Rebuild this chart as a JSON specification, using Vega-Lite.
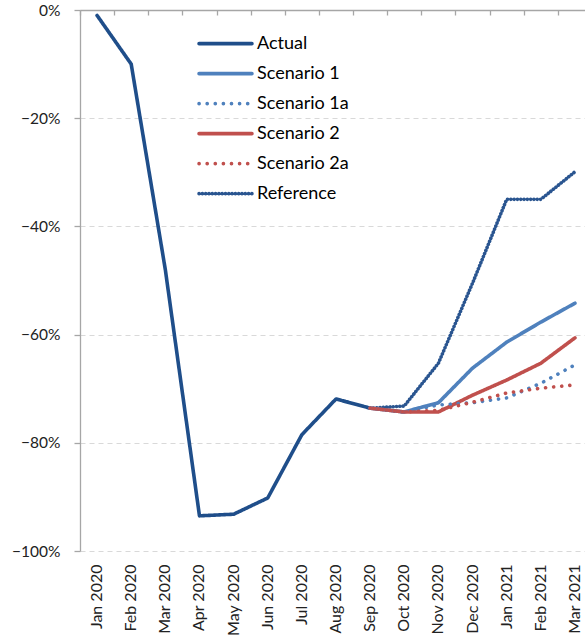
{
  "$schema": "https://vega.github.io/schema/vega-lite/v6.json",
  "width": 505,
  "height": 541,
  "autosize": {"type": "none"},
  "padding": {"left": 80, "top": 10, "right": 0, "bottom": 93},
  "background": "white",
  "config": {
    "font": "Lato",
    "view": {"stroke": null},
    "axis": {"labelFont": "Lato", "labelFontSize": 16, "labelColor": "#222222"},
    "legend": {"labelFont": "Lato", "labelFontSize": 18, "labelColor": "#000000"}
  },
  "data": {
    "values": [
      {"month": "Jan 2020", "series": "Actual", "value": -0.01},
      {"month": "Feb 2020", "series": "Actual", "value": -0.10},
      {"month": "Mar 2020", "series": "Actual", "value": -0.48},
      {"month": "Apr 2020", "series": "Actual", "value": -0.935},
      {"month": "May 2020", "series": "Actual", "value": -0.932},
      {"month": "Jun 2020", "series": "Actual", "value": -0.902},
      {"month": "Jul 2020", "series": "Actual", "value": -0.785},
      {"month": "Aug 2020", "series": "Actual", "value": -0.719},
      {"month": "Sep 2020", "series": "Actual", "value": -0.736},

      {"month": "Sep 2020", "series": "Reference", "value": -0.736},
      {"month": "Oct 2020", "series": "Reference", "value": -0.732},
      {"month": "Nov 2020", "series": "Reference", "value": -0.653},
      {"month": "Dec 2020", "series": "Reference", "value": -0.505},
      {"month": "Jan 2021", "series": "Reference", "value": -0.35},
      {"month": "Feb 2021", "series": "Reference", "value": -0.35},
      {"month": "Mar 2021", "series": "Reference", "value": -0.299},

      {"month": "Sep 2020", "series": "Scenario 1", "value": -0.736},
      {"month": "Oct 2020", "series": "Scenario 1", "value": -0.743},
      {"month": "Nov 2020", "series": "Scenario 1", "value": -0.726},
      {"month": "Dec 2020", "series": "Scenario 1", "value": -0.662},
      {"month": "Jan 2021", "series": "Scenario 1", "value": -0.614},
      {"month": "Feb 2021", "series": "Scenario 1", "value": -0.577},
      {"month": "Mar 2021", "series": "Scenario 1", "value": -0.542},

      {"month": "Sep 2020", "series": "Scenario 2", "value": -0.736},
      {"month": "Oct 2020", "series": "Scenario 2", "value": -0.743},
      {"month": "Nov 2020", "series": "Scenario 2", "value": -0.743},
      {"month": "Dec 2020", "series": "Scenario 2", "value": -0.712},
      {"month": "Jan 2021", "series": "Scenario 2", "value": -0.684},
      {"month": "Feb 2021", "series": "Scenario 2", "value": -0.653},
      {"month": "Mar 2021", "series": "Scenario 2", "value": -0.606},

      {"month": "Sep 2020", "series": "Scenario 1a", "value": -0.736},
      {"month": "Oct 2020", "series": "Scenario 1a", "value": -0.743},
      {"month": "Nov 2020", "series": "Scenario 1a", "value": -0.73},
      {"month": "Dec 2020", "series": "Scenario 1a", "value": -0.726},
      {"month": "Jan 2021", "series": "Scenario 1a", "value": -0.717},
      {"month": "Feb 2021", "series": "Scenario 1a", "value": -0.69},
      {"month": "Mar 2021", "series": "Scenario 1a", "value": -0.656},

      {"month": "Sep 2020", "series": "Scenario 2a", "value": -0.736},
      {"month": "Oct 2020", "series": "Scenario 2a", "value": -0.743},
      {"month": "Nov 2020", "series": "Scenario 2a", "value": -0.74},
      {"month": "Dec 2020", "series": "Scenario 2a", "value": -0.725},
      {"month": "Jan 2021", "series": "Scenario 2a", "value": -0.708},
      {"month": "Feb 2021", "series": "Scenario 2a", "value": -0.699},
      {"month": "Mar 2021", "series": "Scenario 2a", "value": -0.693}
    ]
  },
  "layer": [
    {
      "mark": {"type": "line", "strokeOpacity": 0},
      "encoding": {
        "x": {
          "field": "month",
          "type": "ordinal",
          "sort": ["Jan 2020","Feb 2020","Mar 2020","Apr 2020","May 2020","Jun 2020","Jul 2020","Aug 2020","Sep 2020","Oct 2020","Nov 2020","Dec 2020","Jan 2021","Feb 2021","Mar 2021"],
          "scale": {"type": "band", "paddingInner": 0, "paddingOuter": 0, "range": [0, 512]},
          "axis": {
            "orient": "top",
            "title": null,
            "labels": false,
            "domain": true,
            "domainColor": "#a6a6a6",
            "domainWidth": 1.3,
            "ticks": true,
            "tickBand": "extent",
            "tickSize": -5,
            "tickColor": "#a6a6a6",
            "tickWidth": 1.3,
            "grid": false
          }
        },
        "y": {"field": "value", "type": "quantitative"},
        "detail": {"field": "series"}
      }
    },
    {
      "mark": {"type": "line", "strokeCap": "round", "strokeJoin": "round"},
      "encoding": {
        "x": {
          "field": "month",
          "type": "ordinal",
          "sort": ["Jan 2020","Feb 2020","Mar 2020","Apr 2020","May 2020","Jun 2020","Jul 2020","Aug 2020","Sep 2020","Oct 2020","Nov 2020","Dec 2020","Jan 2021","Feb 2021","Mar 2021"],
          "axis": {
            "orient": "bottom",
            "title": null,
            "labelAngle": -90,
            "labelAlign": "right",
            "labelBaseline": "middle",
            "labelPadding": 13,
            "domain": false,
            "ticks": false,
            "grid": false
          }
        },
        "y": {
          "field": "value",
          "type": "quantitative",
          "scale": {"domain": [-1, 0], "nice": false, "zero": false},
          "axis": {
            "title": null,
            "values": [-1, -0.8, -0.6, -0.4, -0.2, 0],
            "format": ".0%",
            "labelFontSize": 15.5,
            "labelPadding": 14,
            "domainColor": "#a6a6a6",
            "domainWidth": 1.3,
            "tickColor": "#a6a6a6",
            "tickSize": 6,
            "tickWidth": 1.3,
            "gridColor": "#d9d9d9",
            "gridDash": [5, 4]
          }
        },
        "color": {
          "field": "series",
          "type": "nominal",
          "scale": {
            "domain": ["Actual", "Scenario 1", "Scenario 1a", "Scenario 2", "Scenario 2a", "Reference"],
            "range": ["#1F4E8A", "#4F81BD", "#4F81BD", "#C0504D", "#C0504D", "#2A5590"]
          },
          "legend": {
            "title": null,
            "orient": "none",
            "legendX": 117,
            "legendY": 19,
            "symbolType": "stroke",
            "symbolSize": 2800,
            "labelOffset": 3,
            "rowPadding": 0,
            "clipHeight": 29.3,
            "encode": {"symbols": {"update": {"strokeCap": {"value": "round"}}}}
          }
        },
        "strokeDash": {
          "field": "series",
          "type": "nominal",
          "scale": {
            "domain": ["Actual", "Scenario 1", "Scenario 1a", "Scenario 2", "Scenario 2a", "Reference"],
            "range": [[1, 0], [1, 0], [0.1, 8], [1, 0], [0.1, 8], [0.1, 3.2]]
          },
          "legend": null
        },
        "strokeWidth": {
          "field": "series",
          "type": "nominal",
          "scale": {
            "domain": ["Actual", "Scenario 1", "Scenario 1a", "Scenario 2", "Scenario 2a", "Reference"],
            "range": [3.6, 3.6, 3, 3.6, 3, 1.4]
          },
          "legend": null
        }
      }
    }
  ]
}
